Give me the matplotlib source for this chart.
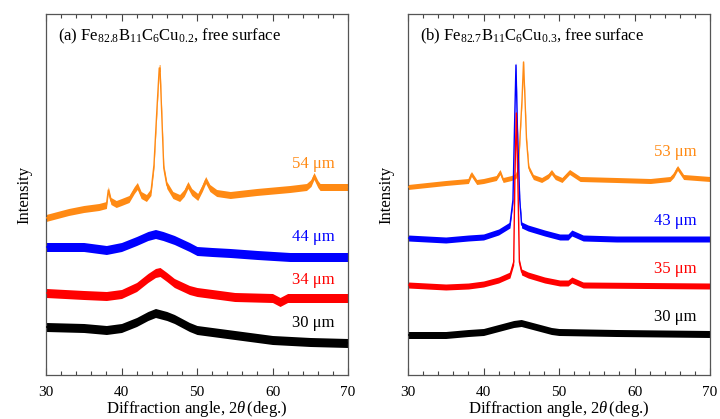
import numpy as np
import matplotlib
matplotlib.use('Agg')
import matplotlib.pyplot as plt
from matplotlib.ticker import MultipleLocator

plt.rcParams['font.family'] = ['Liberation Serif', 'DejaVu Serif']
plt.rcParams['mathtext.fontset'] = 'custom'
plt.rcParams['mathtext.rm'] = 'Liberation Serif'
plt.rcParams['mathtext.it'] = 'Liberation Serif:italic'

# --- Panel (a): Fe82.8B11C6Cu0.2, intensity in arbitrary (offset) units ---
a54_x = [30, 33, 35, 37, 38, 38.25, 38.6, 39.3, 40, 41, 41.7, 42.1, 42.6, 43.3, 43.9, 44.3,
         44.7, 45.0, 45.1, 45.3, 45.6, 46.0, 46.8, 47.7, 48.3, 48.8, 49.3, 50.1, 50.7, 51.15,
         51.7, 52.6, 54.4, 57.9, 62.3, 64.5, 65.1, 65.5, 66.0, 66.3, 70]
a54_y = [157, 163, 166, 168, 170, 185, 174, 171, 173, 176, 185, 189, 180, 177, 183, 210,
         267, 307, 307, 267, 207, 190, 180, 177, 182, 190, 183, 178, 187, 195,
         187, 182, 180, 183, 186, 188, 192, 199, 191, 188, 188]

a44_x = [30, 35, 38, 40, 42, 43.5, 44.5, 45.5, 47, 49, 50, 52, 54.4, 58, 62.3, 70]
a44_y = [128, 128, 125, 128, 134, 139, 141, 139, 135, 128, 124, 123, 122, 120, 118, 118]

a34_x = [30, 35, 38, 40, 42, 43.5, 44.5, 45.1, 46, 47, 49, 50, 55, 60, 61, 62, 70]
a34_y = [82, 80, 79, 81, 88, 97, 102, 103, 98, 92, 85, 83, 78, 77, 73, 77, 77]

a30_x = [30, 35, 38, 40, 42, 43.5, 44.5, 46, 47, 49, 50, 55, 60, 65, 70]
a30_y = [48, 47, 45, 47, 53, 59, 62, 59, 56, 48, 45, 40, 35, 33, 32]

# --- Panel (b): Fe82.7B11C6Cu0.3 ---
b53_x = [30, 35, 38, 38.4, 39.1, 40, 41.7, 42.2, 42.6, 43.7, 44.3, 44.6, 44.85, 45.1, 45.3,
         45.5, 45.7, 46.0, 46.6, 47.7, 48.6, 49.0, 49.5, 50.4, 51.4, 52.8, 57.6, 62.1,
         64.7, 65.2, 65.7, 66.5, 70]
b53_y = [188, 192, 194, 201, 193, 194, 197, 203, 195, 197, 199, 205, 240, 275, 313,
         275, 235, 207, 198, 195, 199, 203, 198, 195, 203, 196, 195, 194,
         196, 200, 207, 198, 196]

b43_x = [30, 35, 38, 40, 42, 43.5, 43.9, 44.1, 44.3, 44.5, 44.8, 45.05, 45.9, 48.1, 50.1,
         51.2, 51.7, 53.2, 57.6, 70]
b43_y = [137, 135, 137, 138, 143, 150, 175, 245, 310, 245, 175, 150, 147, 142, 138,
         138, 142, 137, 136, 136]

b35_x = [30, 35, 38, 40, 42, 43.5, 44.0, 44.15, 44.35, 44.55, 44.75, 45.05, 45.9, 48.1,
         50.1, 51.2, 51.7, 53.2, 70]
b35_y = [90, 88, 89, 91, 95, 100, 113, 195, 262, 195, 113, 103, 100, 95,
         92, 92, 95, 90, 89]

b30_x = [30, 35, 38, 40, 42, 44, 45, 47, 49, 50, 57.6, 70]
b30_y = [40, 40, 42, 43, 47, 51, 52, 48, 44, 43, 42, 41]

ORANGE = '#FF8A14'
BLUE = '#0000FF'
RED = '#FF0000'
BLACK = '#000000'

fig = plt.figure(figsize=(7.2, 4.19), dpi=100)
ax_a = fig.add_axes([46/720, 44/419, 302/720, 361/419])
ax_b = fig.add_axes([408/720, 44/419, 302/720, 361/419])


def trace(ax, x, y, color, hw):
    x = np.array(x); y = np.array(y)
    ax.fill_between(x, y - hw, y + hw, color=color, lw=0, zorder=2)
    ax.plot(x, y, color=color, lw=1.0, zorder=3)


trace(ax_a, a54_x, a54_y, ORANGE, 3.5)
trace(ax_a, a44_x, a44_y, BLUE, 4.5)
trace(ax_a, a34_x, a34_y, RED, 4.5)
trace(ax_a, a30_x, a30_y, BLACK, 4.5)

trace(ax_b, b53_x, b53_y, ORANGE, 2.5)
trace(ax_b, b43_x, b43_y, BLUE, 3.0)
trace(ax_b, b35_x, b35_y, RED, 3.0)
trace(ax_b, b30_x, b30_y, BLACK, 3.5)

lab_kw = dict(fontsize=12, ha='center', va='center', zorder=4)
ax_a.text(65.4, 211, '54 μm', color=ORANGE, **lab_kw)
ax_a.text(65.4, 138, '44 μm', color=BLUE, **lab_kw)
ax_a.text(65.4, 95, '34 μm', color=RED, **lab_kw)
ax_a.text(65.4, 52, '30 μm', color=BLACK, **lab_kw)

ax_b.text(65.4, 223, '53 μm', color=ORANGE, **lab_kw)
ax_b.text(65.4, 154, '43 μm', color=BLUE, **lab_kw)
ax_b.text(65.4, 106, '35 μm', color=RED, **lab_kw)
ax_b.text(65.4, 58, '30 μm', color=BLACK, **lab_kw)

ax_a.text(0.04, 0.939, '(a) Fe$_{82.8}$B$_{11}$C$_{6}$Cu$_{0.2}$, free surface',
          transform=ax_a.transAxes, fontsize=12, va='center', ha='left')
ax_b.text(0.04, 0.939, '(b) Fe$_{82.7}$B$_{11}$C$_{6}$Cu$_{0.3}$, free surface',
          transform=ax_b.transAxes, fontsize=12, va='center', ha='left')

for ax in (ax_a, ax_b):
    ax.set_xlim(30, 70)
    ax.set_ylim(0, 361)
    ax.xaxis.set_major_locator(MultipleLocator(10))
    ax.xaxis.set_minor_locator(MultipleLocator(2))
    ax.tick_params(axis='x', which='both', direction='in', top=True, bottom=True,
                   color='#444444', labelsize=11, pad=8)
    ax.tick_params(axis='x', which='major', length=5, width=0.8)
    ax.tick_params(axis='x', which='minor', length=3, width=0.8)
    ax.set_yticks([])
    for s in ax.spines.values():
        s.set_color('#555555'); s.set_linewidth(0.9)
    ax.set_xlabel('Diffraction angle, 2$\\theta\\,$(deg.)', fontsize=12, labelpad=0)
    ax.set_ylabel('Intensity', fontsize=12, labelpad=10)

fig.savefig('out.png', dpi=100)
